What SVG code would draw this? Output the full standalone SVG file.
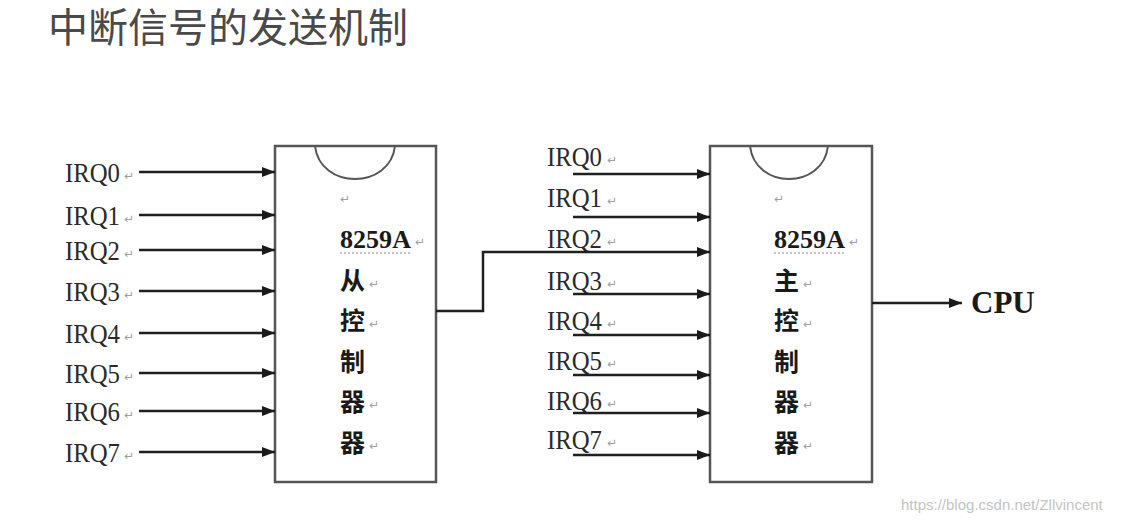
<svg xmlns="http://www.w3.org/2000/svg" width="1124" height="524" viewBox="0 0 1124 524">
<defs>
<marker id="ah" viewBox="0 0 13 10" refX="13" refY="5" markerWidth="13" markerHeight="10" markerUnits="userSpaceOnUse" orient="auto">
<path d="M0,0 L13,5 L0,10 Z" fill="#1a1a1a"/>
</marker>
</defs>
<style>
.title{font-family:"Noto Sans CJK SC","Noto Sans",sans-serif;font-size:40px;fill:#4a4a4a}
.irq{font-family:"Liberation Serif",serif;font-size:27px;fill:#2a2a2a}
.chip{font-family:"Liberation Serif",serif;font-size:26px;font-weight:bold;fill:#1a1a1a}
.cjk{font-family:"Noto Sans CJK SC",sans-serif;font-size:25px;font-weight:bold;fill:#1a1a1a}
.ret{font-family:"DejaVu Sans",sans-serif;font-size:12px;fill:#a0a0a0}
.box{fill:#fff;stroke:#555;stroke-width:2.5}
.notch{fill:none;stroke:#555;stroke-width:2}
.arr{fill:none;stroke:#1f1f1f;stroke-width:2.5;marker-end:url(#ah)}
.dot{stroke:#8a8a8a;stroke-width:1.2;stroke-dasharray:2 2}
.wm{font-family:"Liberation Sans",sans-serif;font-size:15px;fill:#c4c4c4}
.cpu{font-family:"Liberation Serif",serif;font-size:31px;font-weight:bold;fill:#1a1a1a}
</style>
<rect width="1124" height="524" fill="#fff"/>
<text class="title" x="48" y="42">中断信号的发送机制</text>

<g id="slave-inputs">
<text class="irq" x="65" y="182" textLength="55" lengthAdjust="spacingAndGlyphs">IRQ0</text><text class="ret" x="124" y="180">↵</text>
<text class="irq" x="65" y="225" textLength="55" lengthAdjust="spacingAndGlyphs">IRQ1</text><text class="ret" x="124" y="223">↵</text>
<text class="irq" x="65" y="260" textLength="55" lengthAdjust="spacingAndGlyphs">IRQ2</text><text class="ret" x="124" y="258">↵</text>
<text class="irq" x="65" y="301" textLength="55" lengthAdjust="spacingAndGlyphs">IRQ3</text><text class="ret" x="124" y="299">↵</text>
<text class="irq" x="65" y="343" textLength="55" lengthAdjust="spacingAndGlyphs">IRQ4</text><text class="ret" x="124" y="341">↵</text>
<text class="irq" x="65" y="383" textLength="55" lengthAdjust="spacingAndGlyphs">IRQ5</text><text class="ret" x="124" y="381">↵</text>
<text class="irq" x="65" y="421" textLength="55" lengthAdjust="spacingAndGlyphs">IRQ6</text><text class="ret" x="124" y="419">↵</text>
<text class="irq" x="65" y="462" textLength="55" lengthAdjust="spacingAndGlyphs">IRQ7</text><text class="ret" x="124" y="460">↵</text>
</g>

<g id="slave">
<rect class="box" x="275" y="146" width="161" height="336"/>
<path class="notch" d="M315,146 C320,190 390,190 395,146"/>
<text class="ret" x="340" y="203">↵</text>
<text class="chip" x="340" y="248" textLength="71" lengthAdjust="spacingAndGlyphs">8259A</text><text class="ret" x="415" y="246">↵</text>
<line class="dot" x1="340" y1="253" x2="412" y2="253"/>
<text class="cjk" x="340" y="290">从</text><text class="ret" x="369" y="288">↵</text>
<text class="cjk" x="340" y="330">控</text><text class="ret" x="369" y="328">↵</text>
<text class="cjk" x="340" y="371">制</text>
<text class="cjk" x="340" y="411">器</text><text class="ret" x="369" y="409">↵</text>
<text class="cjk" x="340" y="452">器</text><text class="ret" x="369" y="450">↵</text>
</g>

<g id="master-inputs">
<text class="irq" x="547" y="166" textLength="55" lengthAdjust="spacingAndGlyphs">IRQ0</text><text class="ret" x="607" y="164">↵</text>
<text class="irq" x="547" y="207" textLength="55" lengthAdjust="spacingAndGlyphs">IRQ1</text><text class="ret" x="607" y="205">↵</text>
<text class="irq" x="547" y="248" textLength="55" lengthAdjust="spacingAndGlyphs">IRQ2</text><text class="ret" x="607" y="246">↵</text>
<text class="irq" x="547" y="290" textLength="55" lengthAdjust="spacingAndGlyphs">IRQ3</text><text class="ret" x="607" y="288">↵</text>
<text class="irq" x="547" y="330" textLength="55" lengthAdjust="spacingAndGlyphs">IRQ4</text><text class="ret" x="607" y="328">↵</text>
<text class="irq" x="547" y="370" textLength="55" lengthAdjust="spacingAndGlyphs">IRQ5</text><text class="ret" x="607" y="368">↵</text>
<text class="irq" x="547" y="410" textLength="55" lengthAdjust="spacingAndGlyphs">IRQ6</text><text class="ret" x="607" y="408">↵</text>
<text class="irq" x="547" y="449" textLength="55" lengthAdjust="spacingAndGlyphs">IRQ7</text><text class="ret" x="607" y="447">↵</text>
</g>

<g id="master">
<rect class="box" x="710" y="146" width="162" height="336"/>
<path class="notch" d="M750,146 C755,190 823,190 828,146"/>
<text class="ret" x="774" y="203">↵</text>
<text class="chip" x="774" y="248" textLength="71" lengthAdjust="spacingAndGlyphs">8259A</text><text class="ret" x="849" y="246">↵</text>
<line class="dot" x1="774" y1="253" x2="846" y2="253"/>
<text class="cjk" x="774" y="290">主</text><text class="ret" x="803" y="288">↵</text>
<text class="cjk" x="774" y="330">控</text><text class="ret" x="803" y="328">↵</text>
<text class="cjk" x="774" y="371">制</text>
<text class="cjk" x="774" y="411">器</text><text class="ret" x="803" y="409">↵</text>
<text class="cjk" x="774" y="452">器</text><text class="ret" x="803" y="450">↵</text>
</g>

<g id="cpu">
<text class="cpu" x="971" y="313">CPU</text>
</g>

<g id="connectors">
<line class="arr" x1="139" y1="172" x2="275" y2="172"/>
<line class="arr" x1="139" y1="215" x2="275" y2="215"/>
<line class="arr" x1="139" y1="250" x2="275" y2="250"/>
<line class="arr" x1="139" y1="291" x2="275" y2="291"/>
<line class="arr" x1="139" y1="333" x2="275" y2="333"/>
<line class="arr" x1="139" y1="373" x2="275" y2="373"/>
<line class="arr" x1="139" y1="411" x2="275" y2="411"/>
<line class="arr" x1="139" y1="452" x2="275" y2="452"/>

<line class="arr" x1="573" y1="174" x2="710" y2="174"/>
<line class="arr" x1="573" y1="217" x2="710" y2="217"/>
<path class="arr" d="M436,311 H483 V252 H710"/>
<line class="arr" x1="573" y1="294" x2="710" y2="294"/>
<line class="arr" x1="573" y1="335" x2="710" y2="335"/>
<line class="arr" x1="573" y1="375" x2="710" y2="375"/>
<line class="arr" x1="573" y1="413" x2="710" y2="413"/>
<line class="arr" x1="573" y1="455" x2="710" y2="455"/>

<line class="arr" x1="872" y1="303" x2="962" y2="303"/>
</g>

<text class="wm" x="901" y="510">https://blog.csdn.net/Zllvincent</text>
</svg>
